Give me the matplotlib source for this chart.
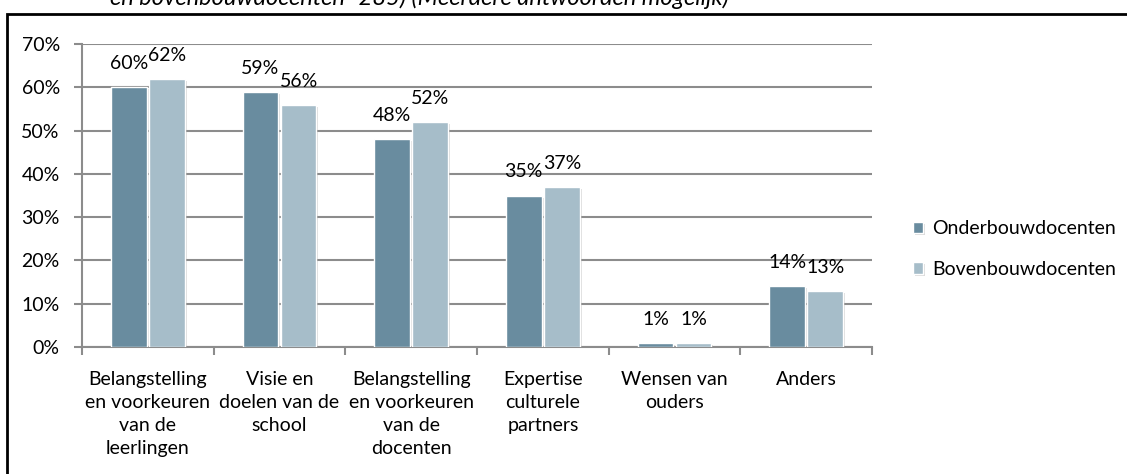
#!/usr/bin/env python3
"""Staafdiagram: waar baseren docenten de keuze op (onderbouw vs bovenbouw)."""

import matplotlib
matplotlib.use("Agg")
import matplotlib.pyplot as plt
import matplotlib.patches as mpatches
import matplotlib.patheffects as pe
import numpy as np

categories = [
    "Belangstelling\nen voorkeuren\nvan de\nleerlingen",
    "Visie en\ndoelen van de\nschool",
    "Belangstelling\nen voorkeuren\nvan de\ndocenten",
    "Expertise\nculturele\npartners",
    "Wensen van\nouders",
    "Anders",
]
onderbouw = [60, 59, 48, 35, 1, 14]
bovenbouw = [62, 56, 52, 37, 1, 13]
series_names = ["Onderbouwdocenten", "Bovenbouwdocenten"]
yticks = [0, 10, 20, 30, 40, 50, 60, 70]

DARK = "#698C9F"
LIGHT = "#A6BDC9"
GRID = "#8C8C8C"
FONT = "Lato"
FS = 14

W, H = 1127, 474
fig = plt.figure(figsize=(W / 100, H / 100), dpi=100)
ax = fig.add_axes([82 / W, 1 - 347 / H, (872 - 82) / W, (347 - 44) / H])

x = np.arange(len(categories))
bw = 0.27
off = 0.145
shadow = [pe.SimplePatchShadow(offset=(1.5, -1.5), shadow_rgbFace="#999999", alpha=0.35), pe.Normal()]
b1 = ax.bar(x - off, onderbouw, bw, color=DARK, edgecolor="white", linewidth=1.0,
            label=series_names[0], zorder=3, path_effects=shadow)
b2 = ax.bar(x + off, bovenbouw, bw, color=LIGHT, edgecolor="white", linewidth=1.0,
            label=series_names[1], zorder=3, path_effects=shadow)

for bars, vals in ((b1, onderbouw), (b2, bovenbouw)):
    for rect, v in zip(bars, vals):
        ax.annotate(f"{v}%", (rect.get_x() + rect.get_width() / 2, v),
                    xytext=(0, 13), textcoords="offset points",
                    ha="center", va="baseline", fontsize=FS, family=FONT, zorder=4)

ax.set_xlim(-0.5, len(categories) - 0.5)
ax.set_ylim(0, 70)
ax.set_yticks(yticks)
ax.set_yticklabels([f"{t}%" for t in yticks], fontsize=FS, family=FONT)
ax.yaxis.grid(True, color=GRID, linewidth=1.5, zorder=0)
ax.tick_params(axis="y", length=6, width=1.5, color=GRID, pad=10)

# ticks op de categoriegrenzen, labels in het midden
ax.set_xticks(np.arange(len(categories) + 1) - 0.5)
ax.set_xticklabels([""] * (len(categories) + 1))
ax.set_xticks(x, minor=True)
ax.set_xticklabels(categories, minor=True, fontsize=FS, family=FONT, linespacing=1.43)
ax.tick_params(axis="x", which="major", length=6, width=1.5, color=GRID)
ax.tick_params(axis="x", which="minor", length=0, pad=17)

for s in ("top", "right"):
    ax.spines[s].set_visible(False)
for s in ("left", "bottom"):
    ax.spines[s].set_color(GRID)
    ax.spines[s].set_linewidth(1.5)

leg = fig.legend(handles=[b1, b2], loc="center left", bbox_to_anchor=(895 / W, 1 - 249 / H),
                 frameon=False, prop={"family": FONT, "size": FS},
                 handlelength=0.55, handleheight=0.55, handletextpad=0.45, labelspacing=1.2)

# kader rond de grafiek (loopt door buiten beeld)
fig.patches.append(mpatches.Rectangle((7 / W, -0.1), 1.2, 1 - 14 / H + 0.1,
                                      transform=fig.transFigure, fill=False,
                                      edgecolor="black", linewidth=2.0))

# afgesneden titelregel bovenaan
fig.text(110 / W, 1 - 5 / H, "en bovenbouwdocenten=285) (Meerdere antwoorden mogelijk)",
         fontsize=17, style="italic", family=FONT, ha="left", va="baseline")

fig.savefig("out.png", dpi=100)
